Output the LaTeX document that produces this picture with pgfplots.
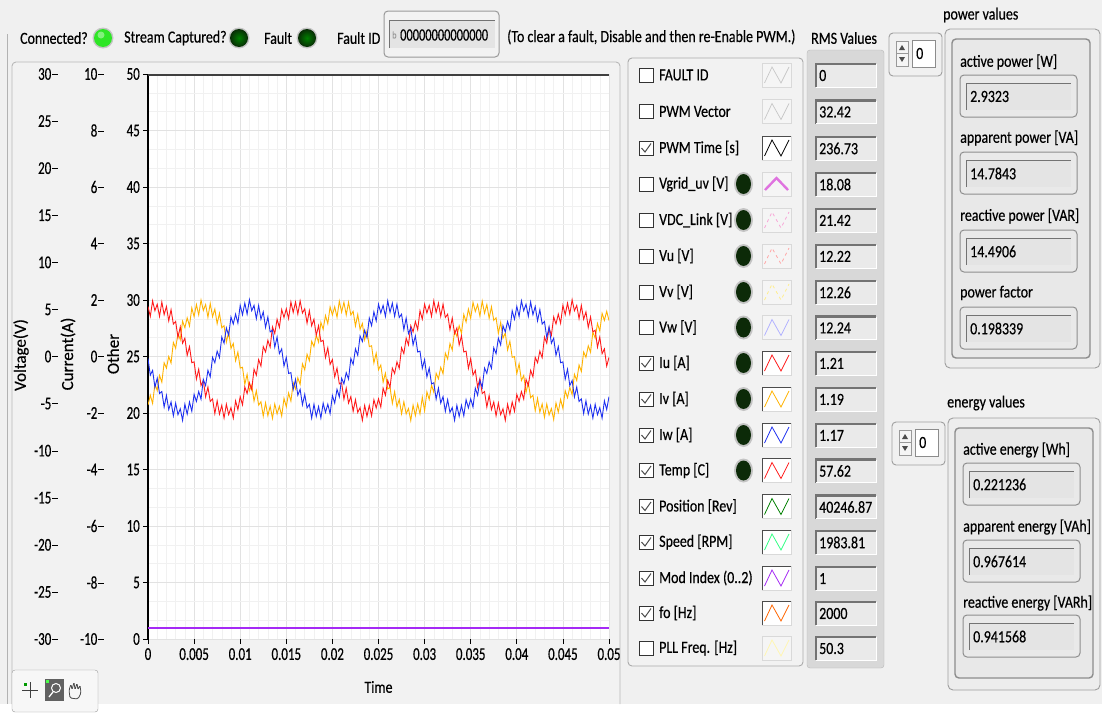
\documentclass[border=0pt]{standalone}
\usepackage{pgfplots}
\pgfplotsset{compat=1.18}
\usepackage{pgfplotstable}
\usepackage{fontspec}
\setmainfont[FakeStretch=0.82, FakeBold=0.4]{Carlito}
\newfontfamily\tickfamily[FakeStretch=0.72, FakeBold=0.4]{Carlito}
\newfontfamily\rotfamily[FakeBold=0.4]{Carlito}
\newcommand\uif{\fontsize{17}{19}\selectfont}
\newcommand\tkf{\tickfamily\fontsize{18}{20}\selectfont}
\newcommand\rotf{\rotfamily\fontsize{17}{19}\selectfont}

\definecolor{uibg}{HTML}{F0F0F0}
\definecolor{panelbg}{HTML}{F2F2F2}
\definecolor{paneld}{HTML}{B8B8B8}
\definecolor{gridmaj}{HTML}{E2E2E2}
\definecolor{gridmin}{HTML}{F1F1F1}
\definecolor{iu}{HTML}{FF1A1A}
\definecolor{iv}{HTML}{FFB300}
\definecolor{iw}{HTML}{1E30F0}
\definecolor{modc}{HTML}{A52AF5}
\definecolor{ledon}{HTML}{2EE626}
\definecolor{ledoff}{HTML}{0E4A0A}
\definecolor{leddark}{HTML}{0C2A08}
\definecolor{ledring}{HTML}{C4C4C4}
\definecolor{vbox}{HTML}{E9E9E9}
\definecolor{vboxd}{HTML}{8E8E8E}
\definecolor{vfield}{HTML}{E4E4E4}
\definecolor{rmscol}{HTML}{D8D8D8}
\definecolor{rmsfield}{HTML}{EAEAEA}

\newcommand\legled[1]{%
  \fill[ledring] (743.5,#1) ellipse [x radius=9.5pt, y radius=12pt];
  \fill[leddark] (743.5,#1) ellipse [x radius=7.5pt, y radius=10pt];}
\newcommand\legrow[6]{% y, label, checked, led, colour, style
  \draw[draw=black!80, fill=white, line width=0.8pt] (639,#1-7) rectangle (653,#1+7);
  \ifnum#3=1 \draw[black!70, line width=1pt] (641.5,#1) -- (645,#1+4) -- (651,#1-4.5);\fi
  \node[anchor=west, inner sep=0, font=\uif] at (659,#1) {#2};
  \ifnum#4=1 \legled{#1}\fi
  \ifnum#3=1
    \fill[white] (762,#1-12) rectangle (791,#1+12);
    \draw[black!70, line width=1pt] (762,#1+12) -- (762,#1-12) -- (791,#1-12);
    \draw[black!15, line width=0.8pt] (762,#1+12) -- (791,#1+12) -- (791,#1-12);
  \else
    \fill[white!96!black] (762,#1-12) rectangle (791,#1+12);
    \draw[black!15, line width=0.8pt] (762,#1-12) rectangle (791,#1+12);
  \fi
  \draw[#5, #6] (764.5,#1+8) -- (772,#1-8) -- (781,#1+8) -- (789,#1-8);}
\newcommand\rmsbox[2]{%
  \fill[rmsfield] (816,#1-11) rectangle (876,#1+12);
  \draw[black!55, line width=2.2pt] (816,#1+12) -- (816,#1-11) -- (876,#1-11);
  \draw[white, line width=1pt] (816,#1+12) -- (876,#1+12) -- (876,#1-11);
  \node[anchor=west, inner sep=0, font=\uif] at (819,#1+0.5) {#2};}
\newcommand\valbox[4]{% x, ytop, text, width
  \draw[rounded corners=4pt, fill=vbox, draw=vboxd, line width=1pt] (#1,#2) rectangle (#1+#4,#2+42);
  \fill[vfield] (#1+6,#2+8) rectangle (#1+#4-6,#2+35);
  \draw[black!55, line width=1pt] (#1+6,#2+35) -- (#1+6,#2+8) -- (#1+#4-6,#2+8);
  \node[anchor=west, inner sep=0, font=\uif] at (#1+10,#2+21.5) {#3};}
\newcommand\spin[2]{%
  \draw[rounded corners=4pt, fill=uibg, draw=black!38, line width=0.9pt] (#1,#2) rectangle (#1+53,#2+43);
  \draw[fill=white!96!black, draw=black!40] (#1+7,#2+8) rectangle (#1+19,#2+33);
  \draw[black!40] (#1+7,#2+20.5) -- (#1+19,#2+20.5);
  \fill[black!70] (#1+10,#2+17) -- (#1+16,#2+17) -- (#1+13,#2+12) -- cycle;
  \fill[black!70] (#1+10,#2+24) -- (#1+16,#2+24) -- (#1+13,#2+29) -- cycle;
  \draw[fill=white, draw=black!45] (#1+23,#2+7) rectangle (#1+46,#2+34);
  \node[anchor=west, inner sep=0, font=\uif] at (#1+27,#2+20.5) {0};}

\begin{document}
\pgfplotstableread{
t R Y B
0 1.77 -1.72 -0.07
0.25 1.42 -1.37 -0.66
0.5 1.97 -1.66 -0.49
0.75 1.62 -0.97 -1.09
1 1.85 -1.21 -0.77
1.25 1.42 -0.67 -1.31
1.5 1.93 -0.91 -1.24
1.75 1.48 -0.22 -1.79
2 1.77 -0.41 -1.38
2.25 1.26 0.00 -1.88
2.5 1.66 -0.23 -1.61
2.75 1.15 0.50 -2.10
3 1.24 0.29 -1.65
3.25 0.67 0.83 -2.06
3.5 1.05 0.59 -1.85
3.75 0.47 1.25 -2.26
4 0.65 1.02 -1.69
4.25 0.04 1.37 -2.04
4.5 0.35 1.08 -1.61
4.75 -0.22 1.72 -1.94
5 -0.19 1.41 -1.34
5.25 -0.80 1.84 -1.59
5.5 -0.45 1.47 -1.24
5.75 -1.03 2.00 -1.51
6 -0.85 1.63 -0.81
6.25 -1.43 1.84 -1.03
6.5 -1.08 1.39 -0.49
6.75 -1.59 1.88 -0.72
7 -1.50 1.41 -0.03
7.25 -2.02 1.68 -0.22
7.5 -1.57 1.16 0.19
7.75 -2.04 1.53 -0.04
8 -1.73 1.02 0.69
8.25 -2.18 1.09 0.47
8.5 -1.69 0.51 1.01
8.75 -2.06 0.87 0.75
9 -1.81 0.29 1.40
9.25 -2.18 0.46 1.15
9.5 -1.57 -0.15 1.50
9.75 -1.88 0.16 1.18
10 -1.42 -0.41 1.81
10.25 -1.71 -0.38 1.48
10.5 -1.08 -0.99 1.89
10.75 -1.31 -0.63 1.50
11 -0.93 -1.21 2.01
11.25 -1.17 -1.01 1.62
11.5 -0.45 -1.58 1.81
11.75 -0.66 -1.21 1.34
12 -0.11 -1.72 1.81
12.25 -0.34 -1.60 1.32
12.5 0.35 -2.11 1.58
12.75 0.16 -1.64 1.03
13 0.57 -2.09 1.40
13.25 0.33 -1.76 0.87
13.5 1.05 -2.19 0.93
13.75 0.81 -1.68 0.33
14 1.32 -2.03 0.69
14.25 1.03 -1.76 0.10
14.5 1.66 -2.11 0.27
14.75 1.38 -1.48 -0.34
15 1.69 -1.78 -0.03
15.25 1.34 -1.29 -0.60
15.5 1.93 -1.58 -0.57
15.75 1.56 -0.93 -1.17
16 1.93 -1.15 -0.81
16.25 1.50 -0.75 -1.37
16.5 1.97 -0.99 -1.16
16.75 1.54 -0.26 -1.71
17 1.69 -0.47 -1.34
17.25 1.18 0.08 -1.82
17.5 1.62 -0.15 -1.69
17.75 1.09 0.54 -2.18
18 1.32 0.35 -1.69
18.25 0.75 0.75 -2.12
18.5 1.09 0.51 -1.77
18.75 0.53 1.21 -2.18
19 0.57 0.96 -1.65
19.25 -0.04 1.45 -1.98
19.5 0.31 1.16 -1.69
19.75 -0.28 1.76 -2.02
20 -0.11 1.47 -1.38
20.25 -0.72 1.76 -1.65
20.5 -0.41 1.39 -1.16
20.75 -0.97 1.96 -1.43
21 -0.93 1.57 -0.77
21.25 -1.51 1.92 -0.97
21.5 -1.12 1.47 -0.57
21.75 -1.65 1.92 -0.80
22 -1.42 1.47 -0.07
22.25 -1.94 1.60 -0.28
22.5 -1.53 1.08 0.27
22.75 -1.98 1.49 0.04
23 -1.81 0.96 0.73
23.25 -2.26 1.17 0.53
23.5 -1.73 0.59 0.93
23.75 -2.12 0.91 0.67
24 -1.73 0.35 1.36
24.25 -2.10 0.38 1.09
24.5 -1.53 -0.23 1.58
24.75 -1.82 0.12 1.26
25 -1.50 -0.47 1.85
25.25 -1.79 -0.30 1.54
25.5 -1.12 -0.91 1.81
25.75 -1.37 -0.59 1.42
26 -0.85 -1.15 1.97
26.25 -1.09 -1.09 1.56
26.5 -0.41 -1.66 1.89
26.75 -0.60 -1.25 1.42
27 -0.19 -1.78 1.85
27.25 -0.42 -1.52 1.38
27.5 0.31 -2.03 1.50
27.75 0.10 -1.60 0.95
28 0.65 -2.03 1.36
28.25 0.41 -1.84 0.81
28.5 1.09 -2.27 1.01
28.75 0.87 -1.72 0.41
29 1.24 -2.09 0.73
29.25 0.95 -1.68 0.16
29.5 1.62 -2.03 0.19
29.75 1.32 -1.44 -0.42
30 1.85 -1.92 -0.11
30.25 1.54 -1.25 -0.72
30.5 1.81 -1.52 -0.41
30.75 1.42 -1.01 -0.97
31 1.97 -1.27 -0.93
31.25 1.56 -0.59 -1.51
31.5 1.89 -0.79 -1.12
31.75 1.42 -0.38 -1.65
32 1.85 -0.61 -1.42
32.25 1.38 0.12 -1.94
32.5 1.50 -0.09 -1.53
32.75 0.95 0.46 -1.98
33 1.36 0.23 -1.81
33.25 0.81 0.91 -2.26
33.5 1.01 0.71 -1.73
33.75 0.41 1.09 -2.12
34 0.73 0.82 -1.73
34.25 0.16 1.49 -2.10
34.5 0.19 1.22 -1.53
34.75 -0.42 1.68 -1.82
35 -0.07 1.35 -1.50
35.25 -0.66 1.92 -1.79
35.5 -0.49 1.59 -1.12
35.75 -1.09 1.84 -1.37
36 -0.77 1.43 -0.85
36.25 -1.31 1.96 -1.09
36.5 -1.24 1.53 -0.41
36.75 -1.79 1.84 -0.60
37 -1.38 1.35 -0.19
37.25 -1.88 1.76 -0.42
37.5 -1.61 1.28 0.31
37.75 -2.10 1.37 0.10
38 -1.65 0.82 0.65
38.25 -2.06 1.21 0.41
38.5 -1.85 0.65 1.09
38.75 -2.26 0.83 0.87
39 -1.69 0.23 1.24
39.25 -2.04 0.54 0.95
39.5 -1.61 -0.03 1.62
39.75 -1.94 0.00 1.32
40 -1.34 -0.61 1.77
40.25 -1.59 -0.26 1.42
40.5 -1.24 -0.85 1.97
40.75 -1.51 -0.67 1.62
41 -0.81 -1.27 1.85
41.25 -1.03 -0.93 1.42
41.5 -0.49 -1.46 1.93
41.75 -0.72 -1.37 1.48
42 -0.03 -1.92 1.77
42.25 -0.22 -1.48 1.26
42.5 0.19 -1.97 1.66
42.75 -0.04 -1.68 1.15
43 0.69 -2.15 1.24
43.25 0.47 -1.68 0.67
43.5 1.01 -2.07 1.05
43.75 0.75 -1.84 0.47
44 1.40 -2.23 0.65
44.25 1.15 -1.64 0.04
44.5 1.50 -1.97 0.35
44.75 1.18 -1.52 -0.22
45 1.81 -1.84 -0.19
45.25 1.48 -1.21 -0.80
45.5 1.89 -1.46 -0.45
45.75 1.50 -1.09 -1.03
46 2.01 -1.35 -0.85
46.25 1.62 -0.63 -1.43
46.5 1.81 -0.85 -1.08
46.75 1.34 -0.30 -1.59
47 1.81 -0.53 -1.50
47.25 1.32 0.16 -2.02
47.5 1.58 -0.03 -1.57
47.75 1.03 0.38 -2.04
48 1.40 0.15 -1.73
48.25 0.87 0.87 -2.18
48.5 0.93 0.65 -1.69
48.75 0.33 1.17 -2.06
49 0.69 0.90 -1.81
49.25 0.10 1.53 -2.18
49.5 0.27 1.28 -1.57
49.75 -0.34 1.60 -1.88
50 -0.03 1.27 -1.42
}\cur
\begin{tikzpicture}
\begin{scope}[x=1pt,y=-1pt]
  \fill[uibg] (0,0) rectangle (1102,704);
  % frames of the chart panel
  \draw[black!30, line width=0.8pt] (7,34) -- (7,704);
  \fill[panelbg] (12,62) rectangle (620,704);
  \draw[paneld, line width=0.9pt, rounded corners=4pt] (12,704) -- (12,62) -- (620,62) -- (620,704);
  % toolbar
  \draw[rounded corners=3pt, fill=white!97!black, draw=black!40] (12,670) rectangle (98,712);
  \draw[black!75, line width=0.9pt] (22,690) -- (38,690) (30,682) -- (30,698);
  \fill[green!60!black] (24,683) rectangle (27,686);
  \fill[black!62] (45,679) rectangle (64,701);
  \draw[white, line width=1pt] (56,688) circle (4.5pt);
  \draw[white, line width=1.3pt] (53,692) -- (49,697);
  \fill[green!70] (46,680) rectangle (49,683);
  \draw[black!70, line width=0.8pt, rounded corners=1.5pt] (70,698) -- (69,690) -- (71,684) -- (72,690) -- (74,682) -- (75,690) -- (77,683) -- (78,690) -- (80,685) -- (81,693) -- (78,699) -- cycle;
  % top row
  \node[anchor=west, inner sep=0, font=\uif] at (20,38) {Connected?};
  \fill[ledring] (103,38) circle (10.5pt);
  \fill[ledon] (103,38) circle (9pt);
  \fill[ledon!60!white] (101,35) circle (3.5pt);
  \node[anchor=west, inner sep=0, font=\uif] at (124,38) {Stream Captured?};
  \fill[ledring] (239,38) circle (10.5pt);
  \shade[inner color=green!50!black, outer color=ledoff!60!black] (239,38) circle (9pt);
  \node[anchor=west, inner sep=0, font=\uif] at (264,38) {Fault};
  \fill[ledring] (307,38) circle (10.5pt);
  \shade[inner color=green!50!black, outer color=ledoff!60!black] (307,38) circle (9pt);
  \node[anchor=west, inner sep=0, font=\uif] at (337,38) {Fault ID};
  \draw[rounded corners=4pt, fill=white!95!black, draw=black!40, line width=1pt] (384,11) rectangle (499,57);
  \fill[vfield] (389,20) rectangle (495,48);
  \draw[black!55, line width=1pt] (389,48) -- (389,20) -- (495,20);
  \node[anchor=west, inner sep=0, font=\fontsize{10}{10}\selectfont, text=black!40] at (392,35) {b};
  \node[anchor=west, inner sep=0, font=\tickfamily\fontsize{17.2}{19}\selectfont] at (400,35) {00000000000000};
  \node[anchor=west, inner sep=0, font=\uif] at (507,37) {(To clear a fault, Disable and then re-Enable PWM.)};
  \node[anchor=west, inner sep=0, font=\uif] at (811,38) {RMS Values};
  % legend panel
  \draw[rounded corners=4pt, fill=white!95!black, draw=black!33, line width=0.9pt] (628,58) rectangle (803,666);
  \legrow{75}{FAULT ID}{0}{0}{black!22}{line width=0.7pt}
  \legrow{111.5}{PWM Vector}{0}{0}{black!22}{line width=0.7pt}
  \legrow{148}{PWM Time [s]}{1}{0}{black}{line width=0.8pt}
  \draw[draw=black!80, fill=white, line width=0.8pt] (639,177) rectangle (653,191);
  \node[anchor=west, inner sep=0, font=\uif] at (659,184) {Vgrid\_uv [V]};
  \legled{184}
  \fill[white!96!black] (762,172) rectangle (791,196);
  \draw[black!15, line width=0.8pt] (762,172) rectangle (791,196);
  \draw[violet!45!magenta!55, line width=2.4pt] (765,190) -- (776.5,178) -- (788,190);
  \legrow{220}{VDC\_Link [V]}{0}{1}{magenta!35}{line width=0.8pt, dash pattern=on 3pt off 3.5pt}
  \legrow{256}{Vu [V]}{0}{1}{red!35}{line width=0.8pt, dash pattern=on 3pt off 3.5pt}
  \legrow{292}{Vv [V]}{0}{1}{orange!30!yellow!45}{line width=0.8pt, dash pattern=on 3pt off 3.5pt}
  \legrow{327.5}{Vw [V]}{0}{1}{blue!30!white}{line width=0.8pt}
  \legrow{363}{Iu [A]}{1}{1}{iu}{line width=0.8pt}
  \legrow{399}{Iv [A]}{1}{1}{iv}{line width=0.8pt}
  \legrow{435}{Iw [A]}{1}{1}{iw}{line width=0.8pt}
  \legrow{470.5}{Temp [C]}{1}{1}{red!85!pink}{line width=0.8pt}
  \legrow{506.5}{Position [Rev]}{1}{0}{green!50!black}{line width=0.8pt}
  \legrow{542}{Speed [RPM]}{1}{0}{green!60!cyan!80}{line width=0.8pt}
  \legrow{578}{Mod Index (0..2)}{1}{0}{modc}{line width=0.8pt}
  \legrow{613}{fo [Hz]}{1}{0}{orange!80!red}{line width=0.8pt}
  \legrow{648}{PLL Freq. [Hz]}{0}{0}{orange!25!yellow!30}{line width=0.8pt}
  % RMS column
  \draw[fill=rmscol, draw=black!28, rounded corners=3pt] (807,50) rectangle (884,668);
  \rmsbox{75}{0}
  \rmsbox{111.5}{32.42}
  \rmsbox{148}{236.73}
  \rmsbox{184}{18.08}
  \rmsbox{220}{21.42}
  \rmsbox{256}{12.22}
  \rmsbox{292}{12.26}
  \rmsbox{327.5}{12.24}
  \rmsbox{363}{1.21}
  \rmsbox{399}{1.19}
  \rmsbox{435}{1.17}
  \rmsbox{470.5}{57.62}
  \rmsbox{506.5}{40246.87}
  \rmsbox{542}{1983.81}
  \rmsbox{578}{1}
  \rmsbox{613}{2000}
  \rmsbox{648}{50.3}
  % power values
  \spin{889}{33}
  \node[anchor=west, inner sep=0, font=\uif] at (943,15) {power values};
  \draw[rounded corners=5pt, fill=white!93!black, draw=black!38, line width=0.9pt] (945,29) rectangle (1100,368);
  \draw[rounded corners=4pt, fill=white!91!black, draw=black!45, line width=1.4pt] (952,39) rectangle (1090,358);
  \node[anchor=west, inner sep=0, font=\uif] at (960,62) {active power [W]};
  \valbox{960}{75}{2.9323}{117}
  \node[anchor=west, inner sep=0, font=\uif] at (960,138) {apparent power [VA]};
  \valbox{960}{152}{14.7843}{117}
  \node[anchor=west, inner sep=0, font=\uif] at (960,216) {reactive power [VAR]};
  \valbox{960}{230}{14.4906}{117}
  \node[anchor=west, inner sep=0, font=\uif] at (960,293) {power factor};
  \valbox{960}{307}{0.198339}{117}
  % energy values
  \spin{892}{422}
  \node[anchor=west, inner sep=0, font=\uif] at (947,403) {energy values};
  \draw[rounded corners=5pt, fill=white!93!black, draw=black!38, line width=0.9pt] (948,418) rectangle (1100,690);
  \draw[rounded corners=4pt, fill=white!91!black, draw=black!45, line width=1.4pt] (955,428) rectangle (1093,678);
  \node[anchor=west, inner sep=0, font=\uif] at (963,450) {active energy [Wh]};
  \valbox{963}{463}{0.221236}{117}
  \node[anchor=west, inner sep=0, font=\uif] at (963,527) {apparent energy [VAh]};
  \valbox{963}{540}{0.967614}{117}
  \node[anchor=west, inner sep=0, font=\uif] at (963,603) {reactive energy [VARh]};
  \valbox{963}{615}{0.941568}{117}
  % axis titles
  \node[rotate=90, inner sep=0, font=\rotf] at (21,355) {Voltage(V)};
  \node[rotate=90, inner sep=0, font=\rotf] at (68,354) {Current(A)};
  \node[rotate=90, inner sep=0, font=\rotf] at (113,354) {Other};
  \node[inner sep=0, font=\uif] at (378.5,687) {Time};
\end{scope}
% main axis: Other
\begin{axis}[
  at={(148pt,-639pt)}, anchor=south west,
  scale only axis, width=461pt, height=565pt,
  xmin=0, xmax=50, ymin=0, ymax=50,
  axis background/.style={fill=white},
  axis lines*=left,
  x axis line style={draw=none},
  y axis line style={draw=black, line width=1.1pt},
  tick align=outside, major tick length=5pt, minor tick length=0pt,
  tick style={black, line width=0.8pt},
  xtick={0,5,...,50},
  xticklabels={0,0.005,0.01,0.015,0.02,0.025,0.03,0.035,0.04,0.045,0.05},
  ytick={0,5,...,50},
  minor x tick num=4, minor y tick num=2,
  grid=both,
  major grid style={draw=gridmaj, line width=0.7pt},
  minor grid style={draw=gridmin, line width=0.5pt},
  tick label style={font=\tkf, inner sep=2pt},
  yticklabel style={xshift=-1pt},
  xticklabel style={yshift=-2pt},
  /pgf/number format/assume math mode=true,
]
\addplot[modc, line width=1.6pt] coordinates {(0,1) (50,1)};
\addplot[black!75, line width=1.6pt] coordinates {(0,49.9) (50,49.9)};
\end{axis}
% voltage axis (labels only)
\begin{axis}[
  at={(148pt,-639pt)}, anchor=south west,
  scale only axis, width=461pt, height=565pt,
  xmin=0, xmax=50, ymin=-30, ymax=30,
  hide x axis, axis y line*=left, y axis line style={draw=none},
  ytick={-30,-25,...,30}, major tick length=0pt, ytick style={draw=none},
  yticklabel style={font=\tkf, inner sep=2pt, xshift=-88pt},
  yticklabel={\pgfmathprintnumber{\tick}\kern1pt\rule[5pt]{5.5pt}{0.9pt}},
  /pgf/number format/assume math mode=true,
]
\addplot[draw=none] coordinates {(0,0)};
\end{axis}
% current axis with the three phase currents
\begin{axis}[
  at={(148pt,-639pt)}, anchor=south west,
  scale only axis, width=461pt, height=565pt,
  xmin=0, xmax=50, ymin=-10, ymax=10,
  hide x axis, axis y line*=left, y axis line style={draw=none},
  ytick={-10,-8,...,10}, major tick length=0pt, ytick style={draw=none},
  yticklabel style={font=\tkf, inner sep=2pt, xshift=-42pt},
  yticklabel={\pgfmathprintnumber{\tick}\kern1pt\rule[5pt]{5.5pt}{0.9pt}},
  /pgf/number format/assume math mode=true,
]
\addplot[iv, line width=0.9pt] table[x=t, y=Y] {\cur};
\addplot[iu, line width=0.9pt] table[x=t, y=R] {\cur};
\addplot[iw, line width=0.9pt] table[x=t, y=B] {\cur};
\end{axis}
\end{tikzpicture}
\end{document}
